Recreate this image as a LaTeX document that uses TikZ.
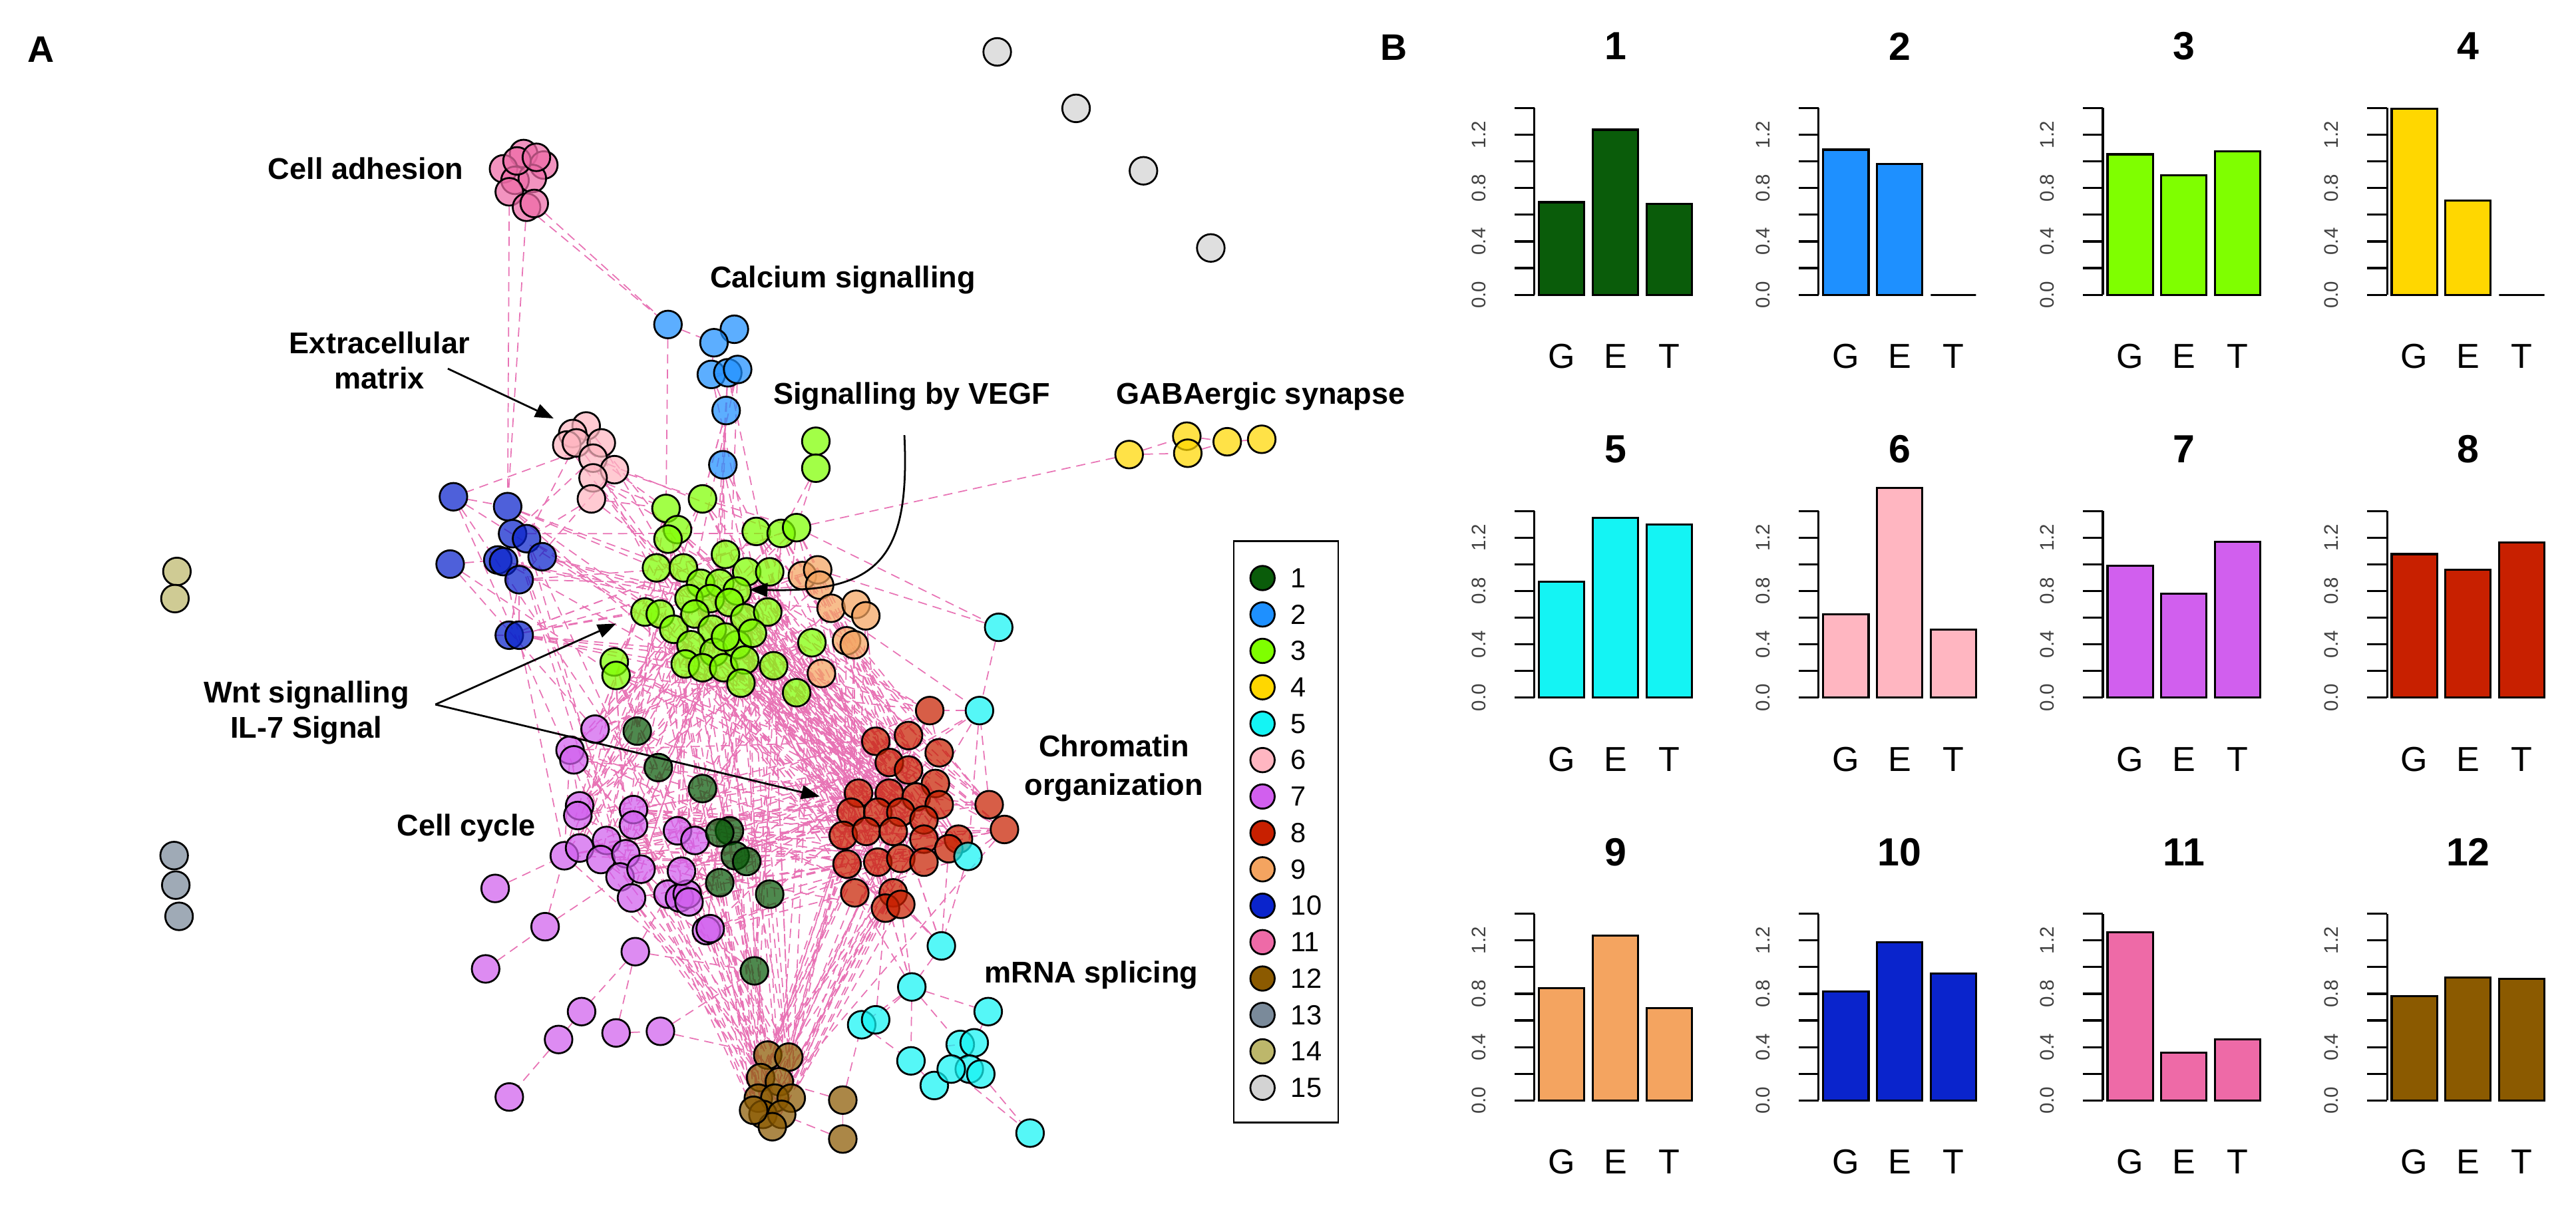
\documentclass[tikz,border=0pt]{standalone}
\usepackage{fontspec}
\setmainfont{Liberation Sans}
\usetikzlibrary{arrows.meta}
\pgfdeclarelayer{bg}
\pgfsetlayers{bg,main}
\definecolor{col1}{HTML}{0A5C0A}
\definecolor{col2}{HTML}{1E90FF}
\definecolor{col3}{HTML}{7FFF00}
\definecolor{col4}{HTML}{FFD700}
\definecolor{col5}{HTML}{14F4F4}
\definecolor{col6}{HTML}{FFB6C1}
\definecolor{col7}{HTML}{D15FEE}
\definecolor{col8}{HTML}{C82000}
\definecolor{col9}{HTML}{F4A460}
\definecolor{col10}{HTML}{0A24CC}
\definecolor{col11}{HTML}{EE6AA7}
\definecolor{col12}{HTML}{8B5A00}
\definecolor{col13}{HTML}{7A8A9A}
\definecolor{col14}{HTML}{BDB76B}
\definecolor{col15}{HTML}{D3D3D3}
\definecolor{epink}{HTML}{E873B5}
\begin{document}
\begin{tikzpicture}[x=0.025cm, y=-0.025cm,
  nd/.style={circle, draw=black, line width=0.8pt, minimum size=4.2mm, inner sep=0pt, fill opacity=0.72},
  lnk/.style={draw=epink, line width=0.5pt, dash pattern=on 1.4mm off 0.9mm},
  lab/.style={font=\fontsize{13}{15.5}\selectfont\bfseries, align=center, inner sep=0pt},
  panel/.style={font=\fontsize{16}{19}\selectfont\bfseries, inner sep=0pt},
  arr/.style={draw=black, line width=0.8pt, -{Triangle[length=2.8mm,width=2.1mm]}},
  legc/.style={circle, draw=black, line width=0.8pt, minimum size=3.7mm, inner sep=0pt},
  legt/.style={anchor=west, font=\fontsize{12}{14}\selectfont, inner sep=0pt},
  barst/.style={draw=black, line width=0.9pt},
  axst/.style={draw=black, line width=0.9pt},
  tkl/.style={rotate=90, font=\fontsize{8.5}{10}\selectfont, text=black!75, inner sep=0pt},
  ttl/.style={font=\fontsize{17}{20}\selectfont\bfseries, inner sep=0pt},
  getl/.style={font=\fontsize{15}{18}\selectfont, inner sep=0pt}]
\useasboundingbox (0,0) rectangle (1568,734);

% ---------------- panel labels
\node[panel] (pA) at (25,30) {A};
\node[panel] (pB) at (848.4,29) {B};

% ---------------- network nodes
\foreach \i/\x/\y in {1/607/31.6, 2/655/66, 3/696/104, 4/737/151}
  \node[nd, fill=col15] (lg\i) at (\x,\y) {};
\foreach \i/\x/\y in {1/107.7/348, 2/106.5/364.5}
  \node[nd, fill=col14] (kh\i) at (\x,\y) {};
\foreach \i/\x/\y in {1/106/521, 2/107/539, 3/109/558}
  \node[nd, fill=col13] (sl\i) at (\x,\y) {};
\foreach \i/\x/\y in {1/318.7/93.5, 2/306.5/102.8, 3/331/100.5, 4/313.5/109.8, 5/324/108.7,
  6/310/116.8, 7/320.5/126.2, 8/325.2/123.9, 9/314.7/98, 10/326.5/95.8}
  \node[nd, fill=col11] (pk\i) at (\x,\y) {};
\foreach \i/\x/\y in {1/406.6/197.6, 2/447/200.5, 3/434.6/208.7, 4/433/228, 5/443/227,
  6/449/225, 7/442/250, 8/440/283}
  \node[nd, fill=col2] (cb\i) at (\x,\y) {};
\foreach \i/\x/\y in {1/356.8/259.4, 2/348.6/264, 3/345/271, 4/350.8/269.7, 5/366/269.7,
  6/361/279, 7/374/286, 8/361/291, 9/360/303.8}
  \node[nd, fill=col6] (ec\i) at (\x,\y) {};
\foreach \i/\x/\y in {1/276/302.5, 2/309/308.5, 3/312/325, 4/320.5/328, 5/330/339,
  6/303/341, 7/306.5/342, 8/316/353, 9/274/343.5, 10/310/386.8, 11/316/386.8}
  \node[nd, fill=col10] (bl\i) at (\x,\y) {};
\foreach \i/\x/\y in {1/687.3/276.8, 2/722.4/265.6, 3/723/276, 4/747/269, 5/768/267.5}
  \node[nd, fill=col4] (y\i) at (\x,\y) {};
\foreach \i/\x/\y in {1/488.4/350.5, 2/497.7/347, 3/498.9/356.3, 4/505.9/370.4, 5/521.1/368,
  6/527/375, 7/515.3/390.2, 8/520/392.6, 9/500/410.1}
  \node[nd, fill=col9] (or\i) at (\x,\y) {};
\foreach \i/\x/\y in {1/496.6/268.7, 2/496.6/285.1, 3/427.6/303.8, 4/405.4/309.6, 5/412.4/322.5,
  6/406.6/328.3, 7/460.3/323.6, 8/475.5/324.8, 9/484.9/321.3, 10/399.6/345.8, 11/416/345.8,
  12/441.6/337.6, 13/454.5/348.2, 14/468.5/348.2, 15/426.5/355.2, 16/438.1/355.2, 17/448.7/359.9,
  18/419.4/364.5, 19/432.3/364.5, 20/444/366.9, 21/392.6/372.7, 22/401.9/373.9, 23/410.1/383.2,
  24/423/373.9, 25/433.5/383.2, 26/453.3/376.2, 27/467.3/372.7, 28/420.6/392.6, 29/434.6/397.2,
  30/448.7/392.6, 31/417.1/404.3, 32/427.6/406.6, 33/440.5/406.6, 34/453.3/401.9, 35/470.9/405.4,
  36/451/416, 37/494.2/391.4, 38/484.9/421.8, 39/373.9/403.1, 40/375/411.3, 41/458/385.6, 42/441.6/387.9}
  \node[nd, fill=col3] (g\i) at (\x,\y) {};
\foreach \i/\x/\y in {1/362.2/444, 2/347/456.8, 3/349.3/462.7, 4/352.8/490.7, 5/351.7/496.6,
  6/385.6/493, 7/385.6/502.4, 8/343.5/521.1, 9/352.8/516.4, 10/369.2/511.8, 11/365.7/523.4,
  12/380.9/519.9, 13/377.4/534, 14/390.2/529.3, 15/384.4/546.8, 16/412.4/505.9, 17/423/511.8,
  18/406.6/544.5, 19/413.6/546.8, 20/418.3/544.5, 21/419.4/549.2, 22/414.8/530.5, 23/430/566.7,
  24/432.3/565.5, 25/301.4/541, 26/331.8/564.3, 27/295.6/590, 28/386.7/579.5, 29/354/616,
  30/340/633, 31/375/629, 32/310/668, 33/402/628}
  \node[nd, fill=col7] (pu\i) at (\x,\y) {};
\foreach \i/\x/\y in {1/387.9/445.2, 2/400.7/467.4, 3/427.6/480.2, 4/444/505.9, 5/438.1/507.1,
  6/447.5/521.1, 7/454.5/524.6, 8/438.1/537.5, 9/468.5/544.5, 10/459.2/591.2}
  \node[nd, fill=col1] (dg\i) at (\x,\y) {};
\foreach \i/\x/\y in {1/565.9/432.7, 2/533.1/451.4, 3/553/447.9, 4/571.7/458.4, 5/541.3/464.3,
  6/553/468.9, 7/569.4/477.1, 8/522.6/483, 9/541.3/483, 10/557.7/485.3, 11/571.7/490,
  12/518/494.6, 13/534.3/494.6, 14/548.3/494.6, 15/562.4/499.3, 16/513.3/508.7, 17/527.3/506.3,
  18/543.7/506.3, 19/562.4/511, 20/583.4/511, 21/577.5/516.8, 22/515.6/526.2, 23/534.3/525,
  24/548.3/522.7, 25/562.4/525, 26/520.3/543.7, 27/543.7/543.7, 28/539/553, 29/548.3/550.7,
  30/602.1/490, 31/611.4/505.1}
  \node[nd, fill=col8] (r\i) at (\x,\y) {};
\foreach \i/\x/\y in {1/607.9/382, 2/596.2/432.7, 3/589.2/521.5, 4/573/576, 5/555/601,
  6/524.5/624, 7/533/621, 8/601.5/616, 9/554.5/646, 10/568.7/661, 11/584.5/636, 12/593/635,
  13/590/651, 14/597/654, 15/579/651, 16/627/690}
  \node[nd, fill=col5] (cy\i) at (\x,\y) {};
\foreach \i/\x/\y in {1/467.3/642.5, 2/480.1/643.7, 3/463/656.2, 4/474.4/658.7, 5/461.6/668.7,
  6/471.6/668.7, 7/481.6/668.7, 8/464.4/678.6, 9/475.8/678.6, 10/470.1/686.1, 11/458.7/676.1,
  12/513/669.9, 13/513/693.6}
  \node[nd, fill=col12] (br\i) at (\x,\y) {};

% ---------------- network edges (behind nodes)
\begin{pgfonlayer}{bg}
\fill[white] (0,0) rectangle (1568,734);
\pgfmathsetseed{4242}
\foreach \ca/\la/\na/\cb/\lb/\nb/\k in {g/3/42/r/1/31/110, g/3/42/pu/1/24/50, pu/1/24/r/1/31/40,
  g/3/42/br/1/11/22, r/1/31/br/1/11/30, pu/1/24/br/1/11/18, dg/1/10/g/3/42/12, dg/1/10/r/1/31/12,
  dg/1/10/pu/1/24/10, dg/1/10/br/1/11/6, bl/1/11/g/3/42/25, bl/1/11/pu/1/24/8, or/1/9/r/1/31/15,
  r/1/31/cy/2/5/15, ec/1/9/g/3/42/10, or/1/9/g/3/42/8, cb/4/8/g/3/42/8, ec/1/9/bl/1/11/4}{
  \foreach \j in {1,...,\k}{
    \pgfmathrandominteger{\ra}{\la}{\na}
    \pgfmathrandominteger{\rb}{\lb}{\nb}
    \draw[lnk] (\ca\ra) -- (\cb\rb);
  }
}
\foreach \ca/\na/\k in {g/42/18, r/31/18, pu/24/10, br/11/5}{
  \foreach \j in {1,...,\k}{
    \pgfmathrandominteger{\ra}{1}{\na}
    \pgfmathrandominteger{\of}{1}{6}
    \pgfmathtruncatemacro{\rb}{mod(\ra+\of-1,\na)+1}
    \draw[lnk] (\ca\ra) -- (\ca\rb);
  }
}
\foreach \a/\b in {pk7/bl2, pk6/bl2, pk8/cb1, pk7/cb1, cb1/g4, cb1/cb3, cb2/cb3, cb3/cb4,
  cb4/cb5, cb5/cb6, cb4/cb7, cb6/cb7, cb7/cb8, cb8/g12, cb8/g7, cb7/g3, cb8/g13, y1/g9, y1/y2,
  y1/y3, y2/y4, y3/y4, y4/y5, g1/g2, g2/g9, g2/g8, or2/cy1, g9/cy1, or4/cy2, cy1/cy2, cy2/cy3,
  cy2/r1, cy3/r20, cy3/cy4, cy4/cy5, cy5/cy6, cy5/cy7, cy5/cy11, cy5/cy8, cy5/cy9, cy9/cy10,
  cy11/cy12, cy12/cy13, cy13/cy14, cy15/cy16, cy14/cy16, cy8/cy12, cy6/cy9, cy4/r27, r30/r11,
  r31/r20, r31/cy3, r30/cy2, pu25/pu8, pu27/pu26, pu26/pu13, pu26/pu8, pu28/pu18, pu28/pu29,
  pu29/pu30, pu30/pu32, pu31/pu33, pu31/pu28, pu33/dg10, pu28/dg10, bl1/bl2, bl9/bl6,
  bl10/bl11, bl11/bl8, bl8/bl10, ec9/bl4, ec9/g4, ec7/g3, ec8/g5, br12/br13, br12/br4,
  br12/cy6, br13/br9, cy7/r28, dg10/br1, pu33/br1, pu23/br3, cy5/r26, cy5/r29}
  \draw[lnk] (\a) -- (\b);
\end{pgfonlayer}

% ---------------- network labels
\node[lab, anchor=base] (lcell) at (222.6,109) {Cell adhesion};
\node[lab, anchor=base] (lcalc) at (513,175) {Calcium signalling};
\node[lab] (lecm) at (231,219.5) {Extracellular\\matrix};
\node[lab, anchor=base] (lvegf) at (555,246) {Signalling by VEGF};
\node[lab, anchor=base west] (lgaba) at (679.3,246) {GABAergic synapse};
\node[lab] (lwnt) at (186.5,434) {Wnt signalling\\IL-7 Signal};
\node[lab, anchor=base] (lcyc) at (283.8,509) {Cell cycle};
\node[lab, font=\fontsize{13}{16.6}\selectfont\bfseries] (lchr) at (678,467.7) {Chromatin\\organization};
\node[lab, anchor=base] (lmrna) at (664.3,598.5) {mRNA splicing};

% ---------------- annotation arrows
\coordinate (ecs) at (272.6,224.5);
\coordinate (ece) at (337,254.8);
\draw[arr] (ecs) -- (ece);
\coordinate (wo) at (265,429);
\coordinate (wt1) at (375,379.7);
\coordinate (wt2) at (499,485);
\draw[arr] (wo) -- (wt1);
\draw[arr] (wo) -- (wt2);
\coordinate (vs) at (550.5,265);
\coordinate (ve) at (456,359);
\draw[arr] (vs) .. controls (554,340) and (535,361) .. (ve);

% ---------------- legend
\draw[line width=0.8pt] (751,329.4) rectangle (814.6,683.6);
\foreach \i in {1,...,15}{
  \node[legc, fill=col\i] (lc\i) at (768.5,{352+22.17*(\i-1)}) {};
  \node[legt] (lt\i) at (785.5,{352+22.17*(\i-1)}) {\i};
}

% ---------------- panel B bar charts
\foreach \i/\vg/\ve/\vt in {1/0.694/1.238/0.683, 2/1.088/0.983/0, 3/1.053/0.897/1.076,
  4/1.394/0.706/0, 5/0.867/1.348/1.30, 6/0.625/1.574/0.509, 7/0.989/0.781/1.169,
  8/1.076/0.960/1.162, 9/0.842/1.237/0.691, 10/0.819/1.185/0.953, 11/1.261/0.360/0.459,
  12/0.784/0.924/0.912}{
  \pgfmathtruncatemacro{\k}{\i-1}
  \pgfmathsetmacro{\ax}{934+173*mod(\k,4)}
  \pgfmathsetmacro{\by}{179.5+245.3*floor(\k/4)}
  \draw[barst, fill=col\i] (\ax+2.8,\by) rectangle (\ax+30.4,\by-81.2*\vg);
  \draw[barst, fill=col\i] (\ax+35.5,\by) rectangle (\ax+63.1,\by-81.2*\ve);
  \draw[barst, fill=col\i] (\ax+68.2,\by) rectangle (\ax+95.8,\by-81.2*\vt);
  \draw[axst] (\ax,\by) -- (\ax,\by-113.68);
  \foreach \t in {0,...,7}
    \draw[axst] (\ax-12,\by-16.24*\t) -- (\ax,\by-16.24*\t);
  \foreach \t/\l in {0/0.0, 2/0.4, 4/0.8, 6/1.2}
    \node[tkl] (tl\i x\t) at (\ax-34,\by-16.24*\t) {\l};
  \node[ttl] (tt\i) at (\ax+49.3,\by-151.3) {\i};
  \node[getl] (gg\i) at (\ax+16.6,\by+37.5) {G};
  \node[getl] (ge\i) at (\ax+49.3,\by+37.5) {E};
  \node[getl] (gt\i) at (\ax+82,\by+37.5) {T};
}
\end{tikzpicture}
\end{document}
